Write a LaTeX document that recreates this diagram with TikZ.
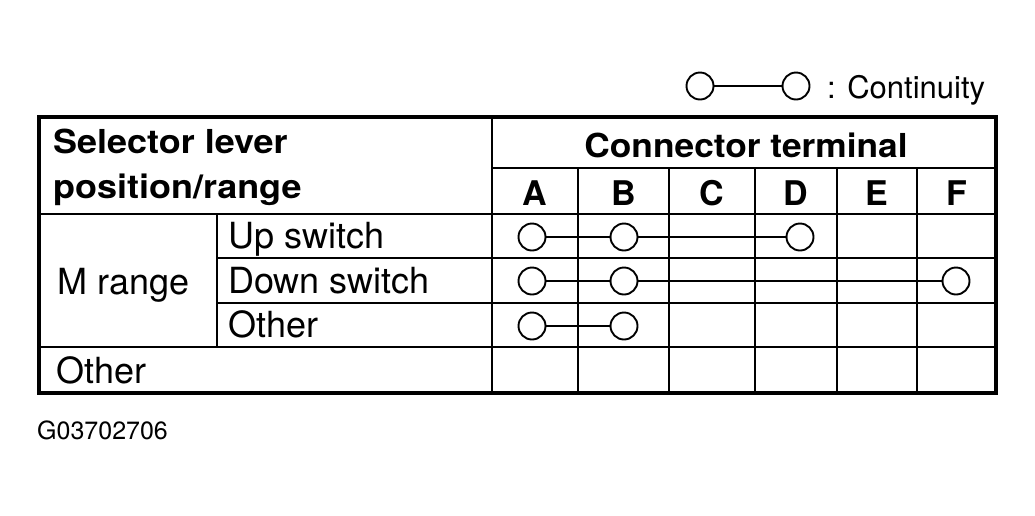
\documentclass[tikz,border=0pt]{standalone}
\usepackage{fontspec}
\setmainfont{TeX Gyre Heros}
\usepackage{graphicx}
\begin{document}
\begin{tikzpicture}[x=1pt,y=-1pt,
  cell/.style={anchor=base west,inner sep=0pt,font=\fontsize{36}{40}\selectfont},
  head/.style={anchor=base west,inner sep=0pt,font=\fontsize{33}{36}\selectfont\bfseries},
  term/.style={anchor=base,inner sep=0pt,font=\fontsize{34}{40}\selectfont\bfseries},
  pin/.style={circle,draw,line width=1.9pt,minimum size=27pt,inner sep=0pt},
  wire/.style={line width=1.9pt},
  rule/.style={line width=2.7pt}]
\useasboundingbox (0,0) rectangle (1035,515);
\draw[rule,line width=3.2pt] (39,117) rectangle (996,393);
\draw[rule] (492,117) -- (492,393);
\draw[rule] (492,168) -- (996,168);
\draw[rule] (217,214) -- (217,347);
\foreach \y in {214,347} \draw[rule] (39,\y) -- (996,\y);
\foreach \y in {258,303} \draw[rule] (217,\y) -- (996,\y);
\foreach \x in {578,669,755,837,917} \draw[rule] (\x,168) -- (\x,393);
\node[head] (sel) at (53,153) {\scalebox{1.09}[1]{Selector lever}};
\node[head] (pos) at (53,198) {\scalebox{1.09}[1]{position/range}};
\node[head,anchor=base] (con) at (746,157) {\scalebox{1.07}[1]{Connector terminal}};
\foreach \l/\x in {A/535,B/623.5,C/712,D/796,E/877,F/956.5}
  \node[term] (t\l) at (\x,205.5) {\l};
\node[cell] (mrange) at (57,294) {M range};
\node[cell] (up) at (228,248) {Up switch};
\node[cell] (down) at (228,293) {Down switch};
\node[cell] (other) at (228,337) {Other};
\node[cell] (rest) at (56,383) {Other};
\node[pin] (a1) at (532,237) {};
\node[pin] (b1) at (624,237) {};
\node[pin] (d1) at (800,237) {};
\node[pin] (a2) at (532,281) {};
\node[pin] (b2) at (624,281) {};
\node[pin] (f2) at (956,281) {};
\node[pin] (a3) at (532,326) {};
\node[pin] (b3) at (624,326) {};
\draw[wire] (a1) -- (b1) -- (d1);
\draw[wire] (a2) -- (b2) -- (f2);
\draw[wire] (a3) -- (b3);
\node[pin] (k1) at (700,86) {};
\node[pin] (k2) at (796,86) {};
\draw[wire] (k1) -- (k2);
\node[cell,font=\fontsize{31}{36}\selectfont] (key) at (827,98) {: Continuity};
\node[cell,font=\fontsize{25}{28}\selectfont] (fig) at (37,439) {G03702706};
\end{tikzpicture}
\end{document}
